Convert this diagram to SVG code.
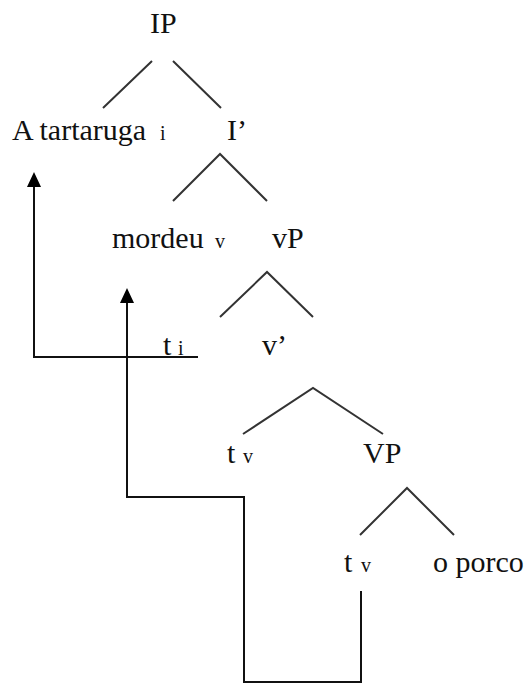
<svg xmlns="http://www.w3.org/2000/svg" width="527" height="683" viewBox="0 0 527 683">
<defs>
<style>
text{font-family:"Liberation Serif","Times New Roman",serif;font-size:30px;fill:#111}
.sub{font-size:20px}
.br{stroke:#333;stroke-width:2;fill:none}
.mv{stroke:#111;stroke-width:2;fill:none}
.ah{fill:#000}
</style>
</defs>
<rect width="527" height="683" fill="#fff"/>
<g id="IP"><text x="150" y="33">IP</text></g>
<g id="ATartaruga"><text x="12" y="140">A tartaruga</text><text class="sub" x="160" y="140">i</text></g>
<g id="Ibar"><text x="227" y="140">I’</text></g>
<g id="mordeu"><text x="112" y="248">mordeu</text><text class="sub" x="215" y="248">v</text></g>
<g id="vP"><text x="272" y="248">vP</text></g>
<g id="ti"><text x="163" y="355">t</text><text class="sub" x="178" y="355">i</text></g>
<g id="vbar"><text x="262" y="355">v’</text></g>
<g id="tv1"><text x="227" y="463">t</text><text class="sub" x="243" y="463">v</text></g>
<g id="VP"><text x="363" y="463">VP</text></g>
<g id="tv2"><text x="344" y="572">t</text><text class="sub" x="361" y="572">v</text></g>
<g id="oporco"><text x="433" y="572">o porco</text></g>
<g id="connectors">
<path class="br" d="M152,61 L103,108 M173,61 L221,108"/>
<path class="br" d="M173,201 L220,154 L267,201"/>
<path class="br" d="M220,317 L267,272 L313,317"/>
<path class="br" d="M243,434 L313,388 L383,434"/>
<path class="br" d="M360,535 L407,488 L454,535"/>
<path class="mv" d="M198,357 L34,357 L34,186"/>
<path class="ah" d="M34,172 L27,187 L41,187 Z"/>
<path class="mv" d="M127,302 L127,497 L244,497 L244,682 L361,682 L361,591"/>
<path class="ah" d="M127,288 L120,303 L134,303 Z"/>
</g>
</svg>
